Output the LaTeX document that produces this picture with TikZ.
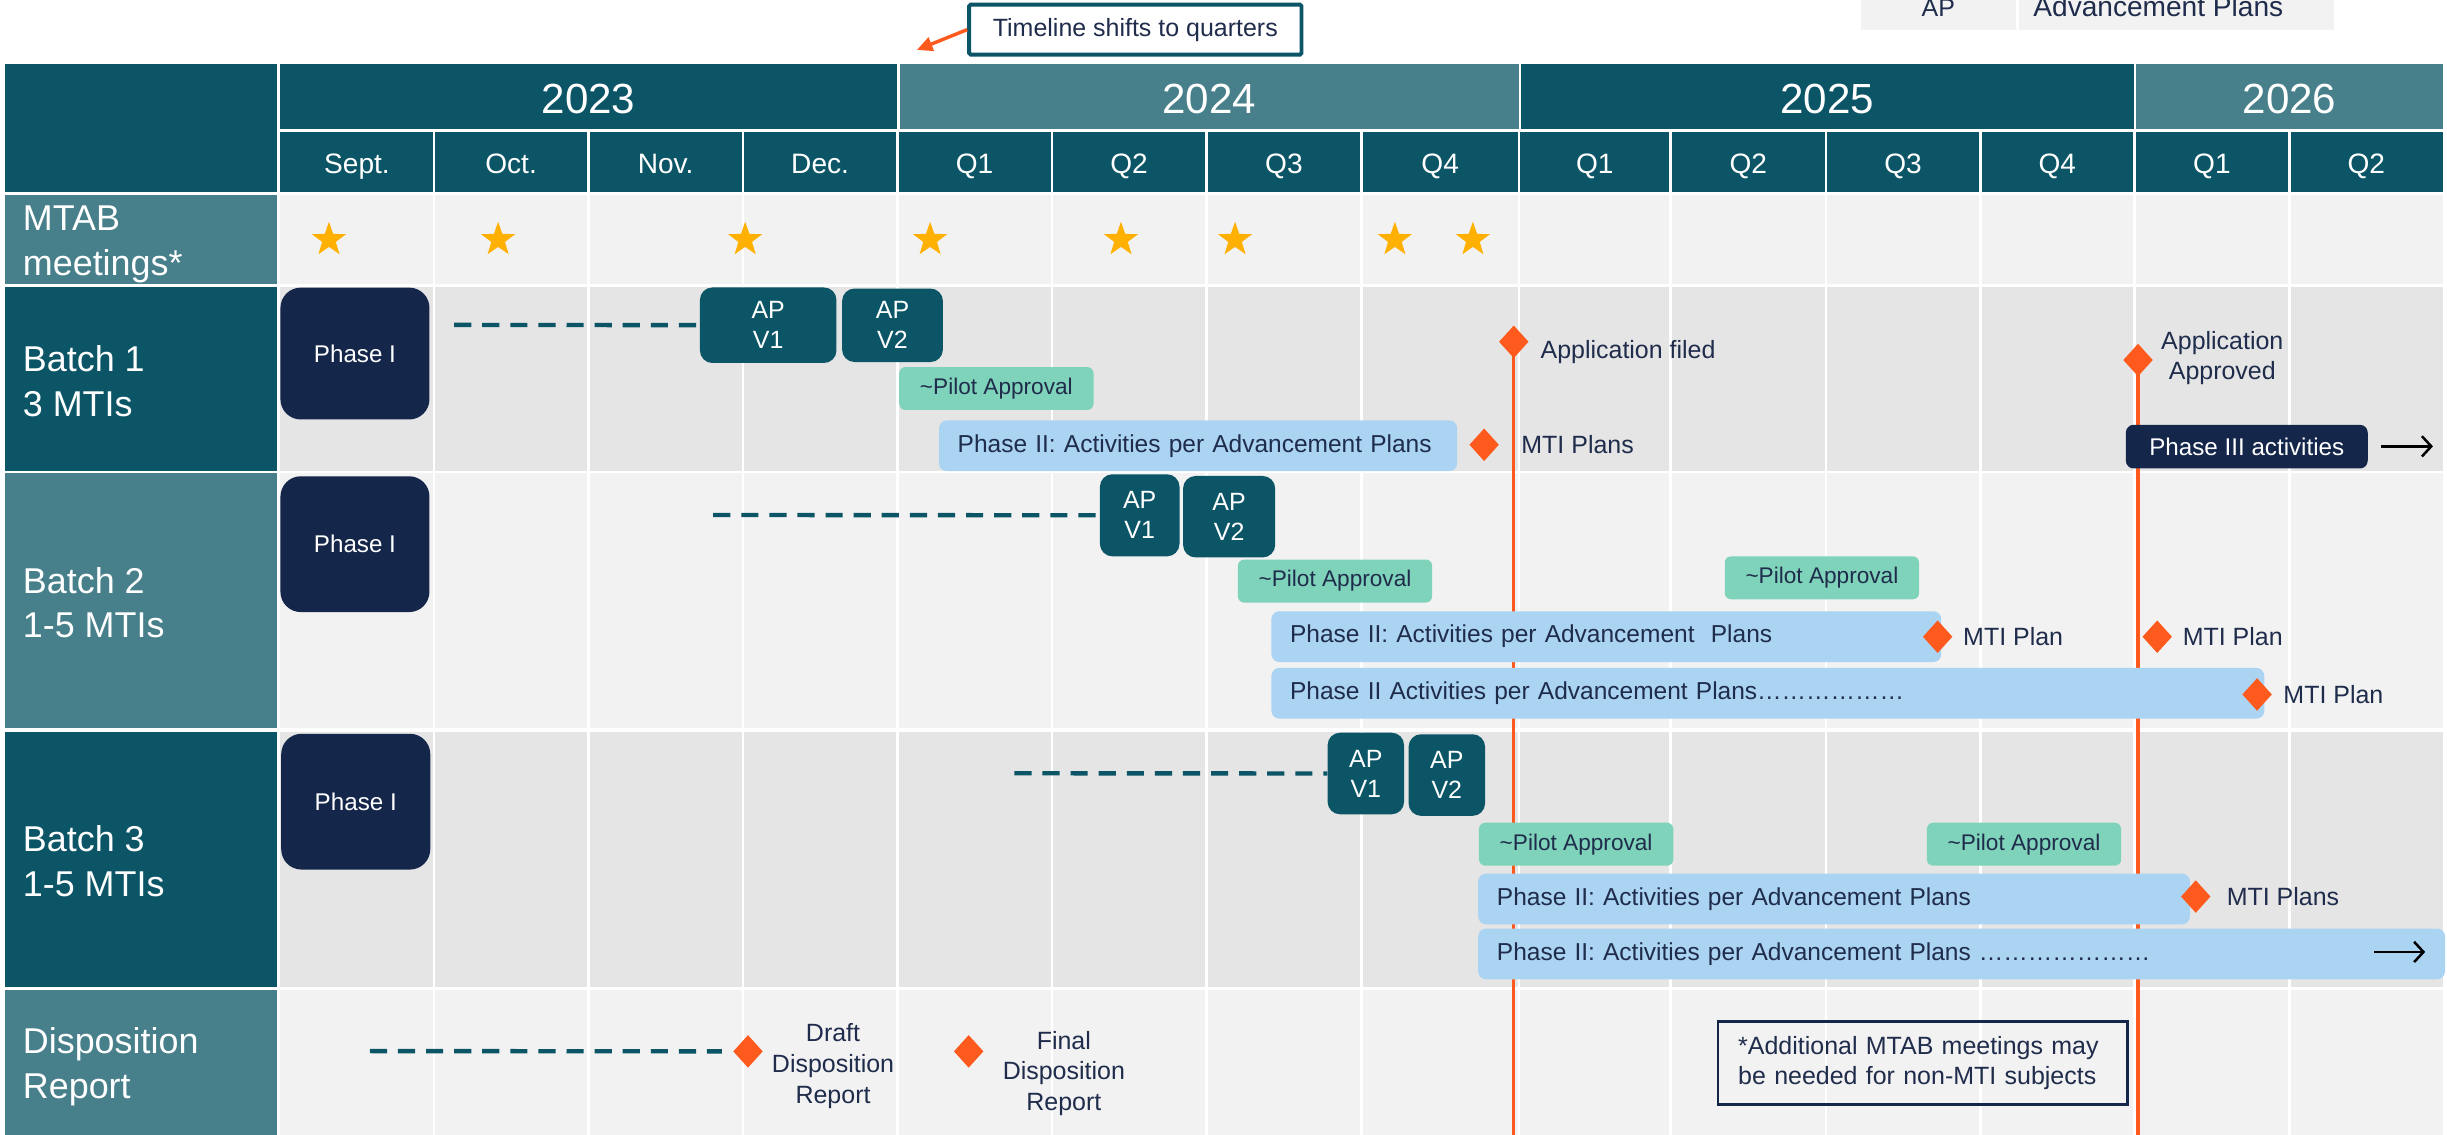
\documentclass[tikz,border=0pt]{standalone}
\usepackage{fontspec}
\setmainfont{Liberation Sans}
\usetikzlibrary{arrows.meta,positioning,shapes.geometric}
\definecolor{tealdark}{HTML}{0B5566}
\definecolor{teallight}{HTML}{477F8A}
\definecolor{navybox}{HTML}{14264A}
\definecolor{rowdark}{HTML}{E5E5E5}
\definecolor{rowlight}{HTML}{F2F2F2}
\definecolor{mintbox}{HTML}{7FD3BA}
\definecolor{barblue}{HTML}{ABD3F2}
\definecolor{flame}{HTML}{FF5A1E}
\definecolor{stargold}{HTML}{FFB000}
\definecolor{ink}{HTML}{1F2C4B}
\tikzset{
  yeartext/.style={anchor=base, text=white, inner sep=0pt, font=\fontsize{27}{30}\selectfont},
  monthtext/.style={anchor=base, text=white, inner sep=0pt, font=\fontsize{18}{20}\selectfont},
  rowlabel/.style={anchor=north west, text=white, inner sep=0pt, align=left, font=\fontsize{23}{28.5}\selectfont},
  phaseone/.style={anchor=north west, fill=navybox, text=white, rounded corners=13pt, inner sep=0pt, minimum width=95.5pt, font=\fontsize{15.5}{18}\selectfont},
  apbox/.style={anchor=north west, fill=tealdark, text=white, rounded corners=8pt, inner sep=0pt, align=center, font=\fontsize{16}{19.2}\selectfont},
  pilot/.style={anchor=north west, fill=mintbox, text=ink, rounded corners=4pt, inner sep=0pt, minimum width=124.5pt, minimum height=27.5pt, font=\fontsize{14.5}{17}\selectfont},
  phasetwo/.style={anchor=north west, fill=barblue, text=ink, rounded corners=5pt, inner xsep=12pt, inner ysep=0pt, minimum height=32.5pt, align=left, font=\fontsize{15.7}{19}\selectfont},
  phasethree/.style={anchor=north west, fill=navybox, text=white, rounded corners=5pt, inner sep=0pt, font=\fontsize{15.5}{18}\selectfont},
  milestone/.style={diamond, fill=flame, minimum width=19pt, minimum height=21pt, inner sep=0pt},
  mtabstar/.style={star, star points=5, star point ratio=2.5, fill=stargold, minimum size=23pt, inner sep=0pt},
  lbl/.style={text=ink, inner sep=0pt, font=\fontsize{16}{19.7}\selectfont},
  onward/.style={black, line width=1.6pt, -{Straight Barb[length=6pt,width=13pt]}},
  deadline/.style={flame, line width=2pt},
  handoff/.style={tealdark, line width=2.8pt, dash pattern=on 11pt off 7pt}
}

\begin{document}
\begin{tikzpicture}[x=1pt, y=-1pt]
\useasboundingbox (0,0) rectangle (1568,727);
\clip (0,0) rectangle (1568,727);

% header
\fill[tealdark] (3.4,41.2) rectangle (177.5,122.8);
\fill[tealdark] (179.5,84.8) rectangle (1565.5,122.8);
\foreach \l/\r/\c/\yr [count=\i] in {179.5/574.7/tealdark/2023, 576.6/973.3/teallight/2024, 974.7/1367.2/tealdark/2025, 1368.7/1565.5/teallight/2026}{
  \fill[\c] (\l,41.2) rectangle (\r,82.9);
  \node[yeartext] (yr\i) at ({(\l+\r)/2},72.6) {\yr};
}

% rows
\foreach \t/\b/\lc/\bc in {125/182.2/teallight/rowlight, 184.1/301.6/tealdark/rowdark, 303.4/466.6/teallight/rowlight, 469/632.2/tealdark/rowdark, 634.2/730/teallight/rowlight}{
  \fill[\lc] (3.4,\t) rectangle (177.5,\b);
  \fill[\bc] (179.5,\t) rectangle (1565.5,\b);
}
\foreach \x in {278,377,476,575,674,773,872.4,973.3,1070.6,1170,1268.9,1367.7,1467}
  \draw[white, line width=1.7pt] (\x,84.8) -- (\x,727);

\foreach \m/\l/\r [count=\i] in {Sept./179.5/278, Oct./278/377, Nov./377/476, Dec./476/575, Q1/575/674, Q2/674/773, Q3/773/872.4, Q4/872.4/973.3, Q1/973.3/1070.6, Q2/1070.6/1170, Q3/1170/1268.9, Q4/1268.9/1367.7, Q1/1367.7/1467, Q2/1467/1565.5}
  \node[monthtext] (mo\i) at ({(\l+\r)/2},111) {\m};

\node[rowlabel] (mtab) at (14.5,131.9) {MTAB\\meetings*};
\node[rowlabel] (batch1) at (14.5,221.4) {Batch 1\\3 MTIs};
\node[rowlabel] (batch2) at (14.5,363.4) {Batch 2\\1-5 MTIs};
\node[rowlabel] (batch3) at (14.5,529) {Batch 3\\1-5 MTIs};
\node[rowlabel] (disp) at (14.5,658.4) {Disposition\\Report};

\foreach \x [count=\i] in {210.8,319.2,477.5,596,718.3,791.4,893.8,943.8}
  \node[mtabstar] (star\i) at (\x,153.6) {};

% deadlines sit behind the bars
\coordinate (filedtop) at (970,219);
\coordinate (filedfoot) at (970,727);
\coordinate (apprtop) at (1370,230.7);
\coordinate (apprfoot) at (1370,727);
\draw[deadline] (filedtop) -- (filedfoot);
\draw[deadline] (apprtop) -- (apprfoot);

% batch 1
\node[phaseone, minimum height=84.5pt] (b1ph1) at (179.5,184.1) {Phase I};
\node[apbox, minimum width=87.5pt, minimum height=48.4pt] (b1apv1) at (448.3,184) {AP\\V1};
\node[apbox, minimum width=64.6pt, minimum height=47.1pt] (b1apv2) at (539.4,184.7) {AP\\V2};
\coordinate (b1dash) at (291,208.2);
\draw[handoff] (b1dash) -- (b1apv1);
\node[pilot] (b1pilot) at (576,235) {\textasciitilde Pilot Approval};
\node[phasetwo, text width=308pt] (b1bar) at (601.5,269.2) {Phase II: Activities per Advancement Plans};
\node[milestone] (b1mti) at (951,285) {};
\node[lbl, right=14pt of b1mti] (b1mtitext) {MTI Plans};
\node[milestone] (filed) at (filedtop) {};
\node[lbl, anchor=base west] (filedtext) at (987,229.5) {Application filed};
\node[milestone] (approved) at (apprtop) {};
\node[lbl, align=center, anchor=north] (apprtext) at (1424,212) {Application\\Approved};
\node[phasethree, minimum width=155pt, minimum height=28pt] (b1ph3) at (1362,272) {Phase III activities};
\coordinate (b1tail) at (1526,286);
\coordinate (b1head) at (1559,286);
\draw[onward] (b1tail) -- (b1head);

% batch 2
\node[phaseone, minimum height=87pt] (b2ph1) at (179.5,305) {Phase I};
\node[apbox, minimum width=51pt, minimum height=52.6pt] (b2apv1) at (704.6,303.7) {AP\\V1};
\node[apbox, minimum width=59pt, minimum height=52.2pt] (b2apv2) at (757.9,304.8) {AP\\V2};
\coordinate (b2dash) at (457,330);
\draw[handoff] (b2dash) -- (b2apv1);
\node[pilot] (b2pilot1) at (793,358.4) {\textasciitilde Pilot Approval};
\node[pilot] (b2pilot2) at (1105,356.3) {\textasciitilde Pilot Approval};
\node[phasetwo, text width=405.2pt] (b2bar1) at (814.5,391.5) {Phase II: Activities per Advancement\ \ Plans};
\node[milestone] (b2mti1) at (1241.6,408) {};
\node[lbl, right=6.5pt of b2mti1] (b2mtitext1) {MTI Plan};
\node[milestone] (b2mti2) at (1382.3,408) {};
\node[lbl, right=6.5pt of b2mti2] (b2mtitext2) {MTI Plan};
\node[phasetwo, text width=612.2pt] (b2bar2) at (814.5,427.8) {Phase II Activities per Advancement Plans………………};
\node[milestone] (b2mti3) at (1446.3,445) {};
\node[lbl, right=7pt of b2mti3] (b2mtitext3) {MTI Plan};

% batch 3
\node[phaseone, minimum height=87pt] (b3ph1) at (180,470) {Phase I};
\node[apbox, minimum width=49pt, minimum height=52.3pt] (b3apv1) at (850.5,469.3) {AP\\V1};
\node[apbox, minimum width=49pt, minimum height=52.3pt] (b3apv2) at (902.4,470.3) {AP\\V2};
\coordinate (b3dash) at (650,495.5);
\draw[handoff] (b3dash) -- (b3apv1);
\node[pilot] (b3pilot1) at (947.5,527) {\textasciitilde Pilot Approval};
\node[pilot] (b3pilot2) at (1234.5,527) {\textasciitilde Pilot Approval};
\node[phasetwo, text width=432pt] (b3bar1) at (947,559.6) {Phase II: Activities per Advancement Plans};
\node[milestone] (b3mti) at (1407,574.5) {};
\node[lbl, right=10pt of b3mti] (b3mtitext) {MTI Plans};
\node[phasetwo, text width=595.5pt] (b3bar2) at (947,594.8) {Phase II: Activities per Advancement Plans …………………};
\coordinate (b3tail) at (1521.5,610);
\coordinate (b3head) at (1554,610);
\draw[onward] (b3tail) -- (b3head);

% disposition report
\node[milestone] (draft) at (479.3,673.7) {};
\node[milestone] (final) at (620.7,673.7) {};
\coordinate (dispdash) at (237,673.5);
\draw[handoff, shorten >=7pt] (dispdash) -- (draft);
\node[lbl, align=center, anchor=north] (drafttext) at (533.8,655.9) {Draft\\Disposition\\Report};
\node[lbl, align=center, anchor=north] (finaltext) at (681.7,660.4) {Final\\Disposition\\Report};
\node[lbl, draw=navybox, line width=1.6pt, anchor=north west, minimum height=53.4pt, inner xsep=13pt, text width=236.6pt, align=left] (mtabnote) at (1100,653.6) {*Additional MTAB meetings may\\be needed for non-MTI subjects};

% top callout and legend
\node[lbl, draw=tealdark, line width=2.5pt, fill=white, minimum width=213pt, minimum height=32pt, rounded corners=1pt] (callout) at (727.5,19) {Timeline shifts to quarters};
\coordinate (shiftpt) at (587.5,32);
\draw[flame, line width=2.2pt, -{Triangle[length=10pt,width=9pt]}] (callout.west) -- (shiftpt);
\fill[rowlight] (1192.5,-10) rectangle (1292,19);
\fill[rowlight] (1294,-10) rectangle (1495.6,19);
\node[lbl, anchor=base] (legap) at (1242,10.5) {AP};
\node[lbl, anchor=base, font=\fontsize{18}{20}\selectfont] (legplans) at (1383,10.5) {Advancement Plans};
\end{tikzpicture}
\end{document}
